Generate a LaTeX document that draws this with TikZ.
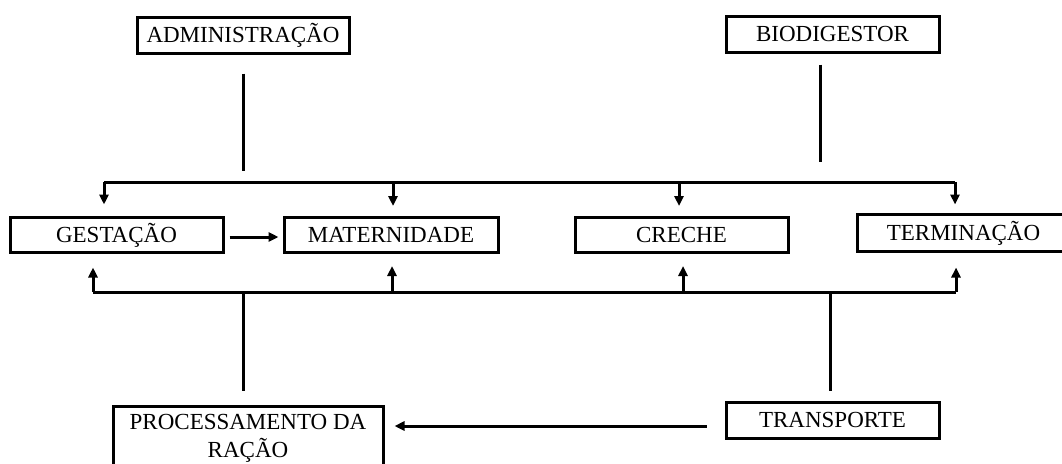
\documentclass[tikz,border=0pt]{standalone}
\usepackage{fontspec}
\setmainfont{Liberation Serif}
\usetikzlibrary{arrows.meta}
\begin{document}
\begin{tikzpicture}[x=1pt,y=-1pt,
  box/.style={draw=black, line width=3pt, inner sep=0pt, minimum height=36pt,
    minimum width=213pt, align=center, font=\fontsize{23}{28.5}\selectfont,
    text height=15pt, text depth=0pt},
  link/.style={draw=black, line width=3pt},
  arr/.style={link, -{Triangle[length=10pt,width=9pt]}}]
\useasboundingbox (0,0) rectangle (1062,463);
\clip (0,0) rectangle (1062,463);

% boxes
\node[box, minimum width=212pt] (admin) at (243,35) {ADMINISTRAÇÃO};
\node[box] (bio) at (832.5,34) {BIODIGESTOR};
\node[box, minimum height=35pt] (gest) at (116.5,234.5) {GESTAÇÃO};
\node[box, minimum width=214pt, minimum height=35pt] (mat) at (391,234.5) {MATERNIDADE};
\node[box, minimum height=35pt] (cre) at (681.5,234.5) {CRECHE};
\node[box, minimum height=37pt] (term) at (963.5,232.5) {TERMINAÇÃO};
\node[box, minimum width=270pt, minimum height=60pt, text height=, text depth=0pt]
  (proc) at (248,436) {PROCESSAMENTO DA\\RAÇÃO};
\node[box] (trans) at (832.5,420) {TRANSPORTE};

% distribution bus (top) and supply bus (bottom)
\coordinate (tbL) at (104,182);
\coordinate (tbR) at (955,182);
\coordinate (bbL) at (93,292);
\coordinate (bbR) at (956,292);

\draw[link, shorten <=19pt, shorten >=11pt] (admin.south) -- (admin.south |- tbL);
\draw[link, shorten <=11pt, shorten >=20pt] (bio.south -| 820,0) -- (820,182);

\draw[link] (tbL) -- (tbR);
\draw[arr, shorten >=11pt] (tbL) -- (tbL |- gest.north);
\draw[arr, shorten >=11pt] (393,182) -- (393,217);
\draw[arr, shorten >=11pt] (679,182) -- (679,217);
\draw[arr, shorten >=8pt] (tbR) -- (tbR |- term.north);

\draw[arr, shorten <=5pt, shorten >=4pt] (gest.east |- 0,237) -- (mat.west |- 0,237);

\draw[link] (bbL) -- (bbR);
\draw[arr, shorten >=14pt] (bbL) -- (bbL |- gest.south);
\draw[arr, shorten >=14pt] (392,292) -- (392,252);
\draw[arr, shorten >=14pt] (683,292) -- (683,252);
\draw[arr, shorten >=15pt] (bbR) -- (bbR |- term.south);

\draw[link, shorten >=14pt] (243,292) -- (243,0 |- proc.north);
\draw[link, shorten >=10pt] (830,292) -- (830,0 |- trans.north);

\draw[arr, shorten <=18pt, shorten >=10pt] (trans.west |- 0,426) -- (proc.east |- 0,426);
\end{tikzpicture}
\end{document}
